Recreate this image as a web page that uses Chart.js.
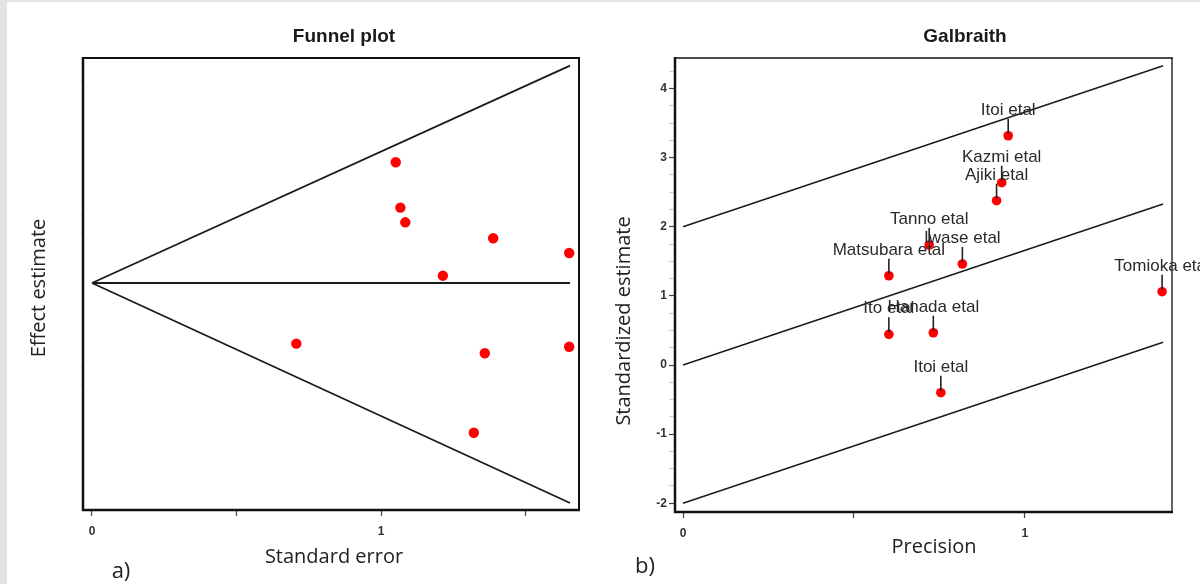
<!DOCTYPE html>
<html><head><meta charset="utf-8">
<script src="https://cdn.jsdelivr.net/npm/chart.js@4.4.1/dist/chart.umd.min.js"></script>
<style>
html,body{margin:0;padding:0;background:#e3e3e3;width:1200px;height:584px;overflow:hidden;}
#sheet{position:absolute;left:7px;top:2px;width:1193px;height:582px;background:#fff;}
.wrap{position:absolute;top:0;width:600px;height:584px;}
canvas{display:block;}
</style></head><body>
<div id="sheet"></div>
<div class="wrap" style="left:0"><canvas id="c1" width="600" height="584"></canvas></div>
<div class="wrap" style="left:600px"><canvas id="c2" width="600" height="584"></canvas></div>
<script>
// ---------- Funnel plot data ----------
const funnelSE     = [1.051, 1.067, 1.084, 1.388, 1.651, 1.214, 0.707, 1.359, 1.651, 1.321];
const funnelEffect = [1.788, 1.116, 0.899, 0.662, 0.444, 0.108, -0.899, -1.041, -0.944, -2.218];
const funnelLineX  = [0, 1.654];
const funnelUpper  = [0, 3.22];
const funnelCentre = [0, 0];
const funnelLower  = [0, -3.26];
const funnelXLabels = [0, 1];

// ---------- Galbraith data ----------
const studyNames   = ['Itoi etal', 'Kazmi etal', 'Ajiki etal', 'Tanno etal', 'Iwase etal',
                      'Matsubara etal', 'Tomioka etal', 'Ito etal', 'Hanada etal', 'Itoi etal'];
const precision    = [0.951, 0.932, 0.917, 0.720, 0.817, 0.602, 1.401, 0.602, 0.732, 0.754];
const standardized = [3.318, 2.638, 2.378, 1.737, 1.462, 1.292, 1.061, 0.444, 0.467, -0.401];
const galLineX     = [0, 1.404];
const galUpper     = [2, 4.33];
const galMiddle    = [0, 2.33];
const galLower     = [-2, 0.33];
const galXLabels   = [0, 1];
const galYLabels   = [-2, -1, 0, 1, 2, 3, 4];

const pts = (xs, ys) => xs.map((x, i) => ({x: x, y: ys[i]}));

const LINE = {showLine: true, pointRadius: 0, borderWidth: 1.8, borderColor: '#1a1a1a', fill: false, tension: 0};

// text & frame plugin
const decor = {
  id: 'decor',
  afterDatasetsDraw(chart, args, opts) {
    const ctx = chart.ctx, a = chart.chartArea;
    ctx.save();
    // frame
    const f = opts.frame;
    ctx.strokeStyle = f.color;
    const side = (w, x1, y1, x2, y2) => { ctx.lineWidth = w; ctx.beginPath(); ctx.moveTo(x1, y1); ctx.lineTo(x2, y2); ctx.stroke(); };
    side(f.top, a.left - 1, a.top, a.right + 1, a.top);
    side(f.right, a.right, a.top, a.right, a.bottom + 1);
    side(f.bottom, a.left - 1, a.bottom, a.right + 1, a.bottom);
    side(f.left, a.left, a.top - 1, a.left, a.bottom + 1);
    // point labels
    if (opts.pointLabels) {
      const meta = chart.getDatasetMeta(0);
      ctx.font = '17px "Liberation Sans", Arial, sans-serif';
      ctx.fillStyle = '#2a2a2a';
      ctx.strokeStyle = '#222';
      ctx.textAlign = 'center';
      ctx.textBaseline = 'alphabetic';
      meta.data.forEach((el, i) => {
        ctx.lineWidth = 1.6;
        ctx.beginPath(); ctx.moveTo(el.x, el.y - 17); ctx.lineTo(el.x, el.y - 2); ctx.stroke();
        ctx.fillText(opts.pointLabels[i], el.x, el.y - 21);
      });
    }
    // free text
    (opts.texts || []).forEach(t => {
      ctx.save();
      ctx.font = t.font;
      ctx.fillStyle = t.color || '#222';
      ctx.textAlign = 'center';
      ctx.textBaseline = 'middle';
      ctx.translate(t.x, t.y);
      if (t.rot) ctx.rotate(t.rot);
      ctx.fillText(t.text, 0, 0);
      ctx.restore();
    });
    ctx.restore();
  }
};

const tickFont = {family: '"Liberation Sans", Arial, sans-serif', size: 12, weight: 'bold'};
const TITLE_FONT = 'bold 19px "Liberation Sans", Arial, sans-serif';
const AXIS_FONT = '20px "Open Sans", sans-serif';

// ---------- Chart 1: Funnel plot ----------
new Chart(document.getElementById('c1'), {
  type: 'scatter',
  data: {
    datasets: [
      {data: pts(funnelSE, funnelEffect), pointRadius: 5.2, pointHoverRadius: 5.2, backgroundColor: '#ff0000', borderWidth: 0},
      Object.assign({data: pts(funnelLineX, funnelUpper)}, LINE),
      Object.assign({data: pts(funnelLineX, funnelCentre)}, LINE),
      Object.assign({data: pts(funnelLineX, funnelLower)}, LINE)
    ]
  },
  plugins: [decor],
  options: {
    responsive: false, animation: false, events: [],
    layout: {padding: {top: 58, right: 21, left: 0, bottom: 0}},
    plugins: {
      legend: {display: false}, tooltip: {enabled: false},
      decor: {
        frame: {color: '#111', top: 2, right: 2, bottom: 2.5, left: 2.5},
        texts: [
          {text: 'Funnel plot', x: 344, y: 37, font: TITLE_FONT, color: '#1a1a1a'},
          {text: 'Effect estimate', x: 39, y: 288, font: AXIS_FONT, rot: -Math.PI / 2},
          {text: 'Standard error', x: 334, y: 557, font: AXIS_FONT},
          {text: 'a)', x: 121, y: 572, font: '22px "Open Sans", sans-serif'}
        ]
      }
    },
    scales: {
      x: {
        type: 'linear', min: -0.0311, max: 1.685,
        afterFit: s => { s.height = 74; },
        border: {display: false},
        grid: {drawOnChartArea: false, drawTicks: true, tickLength: 6, tickColor: '#444', tickWidth: 1.2},
        ticks: {stepSize: 0.5, includeBounds: false, autoSkip: false, maxRotation: 0, padding: 8,
                font: tickFont, color: '#333',
                callback: v => funnelXLabels.includes(v) ? String(v) : ''}
      },
      y: {
        type: 'linear', min: -3.363, max: 3.333,
        afterFit: s => { s.width = 83; },
        border: {display: false},
        grid: {drawOnChartArea: false, drawTicks: true, tickLength: 2, tickColor: '#ccc', tickWidth: 1},
        ticks: {stepSize: 0.25, includeBounds: false, autoSkip: false, display: false}
      }
    }
  }
});

// ---------- Chart 2: Galbraith plot ----------
new Chart(document.getElementById('c2'), {
  type: 'scatter',
  data: {
    datasets: [
      {data: pts(precision, standardized), pointRadius: 4.8, pointHoverRadius: 4.8, backgroundColor: '#ff0000', borderWidth: 0},
      Object.assign({data: pts(galLineX, galUpper)}, LINE, {borderWidth: 1.5}),
      Object.assign({data: pts(galLineX, galMiddle)}, LINE, {borderWidth: 1.5}),
      Object.assign({data: pts(galLineX, galLower)}, LINE, {borderWidth: 1.5})
    ]
  },
  plugins: [decor],
  options: {
    responsive: false, animation: false, events: [],
    layout: {padding: {top: 58, right: 28, left: 0, bottom: 0}},
    plugins: {
      legend: {display: false}, tooltip: {enabled: false},
      decor: {
        frame: {color: '#111', top: 1.6, right: 1.3, bottom: 2.5, left: 2.5},
        pointLabels: studyNames,
        texts: [
          {text: 'Galbraith', x: 365, y: 37, font: TITLE_FONT, color: '#1a1a1a'},
          {text: 'Standardized estimate', x: 24, y: 321, font: AXIS_FONT, rot: -Math.PI / 2},
          {text: 'Precision', x: 334, y: 547, font: AXIS_FONT},
          {text: 'b)', x: 45, y: 567, font: '22px "Open Sans", sans-serif'}
        ]
      }
    },
    scales: {
      x: {
        type: 'linear', min: -0.0234, max: 1.430,
        afterFit: s => { s.height = 72; },
        border: {display: false},
        grid: {drawOnChartArea: false, drawTicks: true, tickLength: 6, tickColor: '#444', tickWidth: 1.2},
        ticks: {stepSize: 0.5, includeBounds: false, autoSkip: false, maxRotation: 0, padding: 8,
                font: tickFont, color: '#333',
                callback: v => galXLabels.includes(v) ? String(v) : ''}
      },
      y: {
        type: 'linear', min: -2.127, max: 4.443,
        afterFit: s => { s.width = 75; },
        border: {display: false},
        grid: {drawOnChartArea: false, drawTicks: true, tickLength: 6, tickWidth: 1.2,
               tickColor: c => (c.tick && Number.isInteger(c.tick.value)) ? '#444' : '#d0d0d0'},
        ticks: {stepSize: 0.25, includeBounds: false, autoSkip: false, padding: 2,
                font: tickFont, color: '#333',
                callback: v => galYLabels.includes(v) ? String(v) : ''}
      }
    }
  }
});
</script>
</body></html>
